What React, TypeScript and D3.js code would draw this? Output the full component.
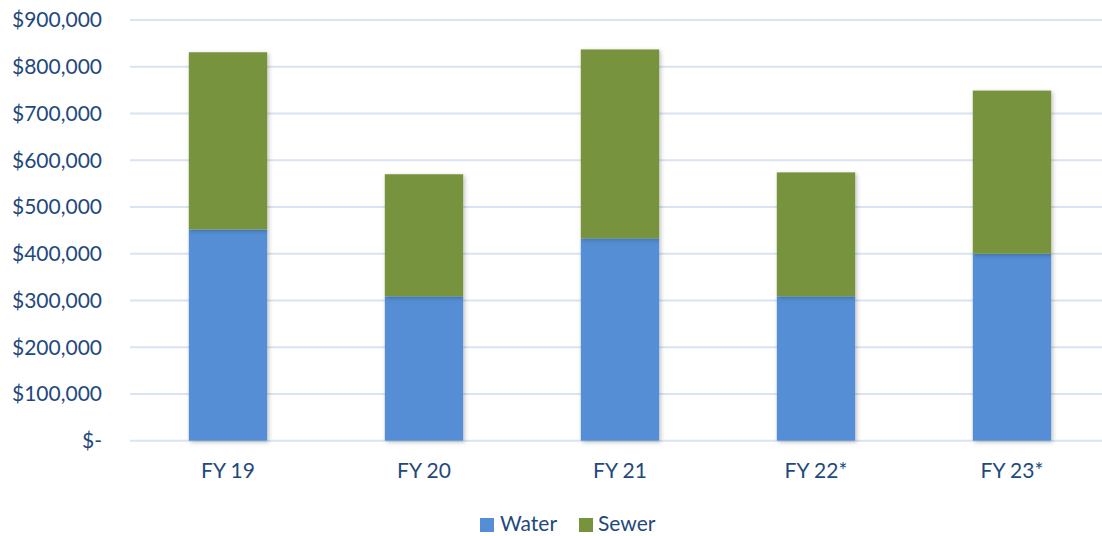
import React from "react";
import * as d3 from "d3";

const categories = ["FY 19", "FY 20", "FY 21", "FY 22*", "FY 23*"];
const water = [452000, 309000, 433000, 309000, 400000];
const sewer = [379000, 261000, 404000, 265000, 349000];
const yTicks = [0, 100000, 200000, 300000, 400000, 500000, 600000, 700000, 800000, 900000];
const seriesNames = ["Water", "Sewer"];
const seriesColors = ["#558ED5", "#77933C"];

const W = 1102;
const H = 536;
const FONT = "Lato, 'Open Sans', sans-serif";
const TEXT = "#1F497D";

export default function App() {
  const x = d3.scaleBand<string>().domain(categories).range([130, 1110]).paddingInner(0.6).paddingOuter(0.3);
  const y = d3.scaleLinear().domain([0, 900000]).range([440.7, 20]);

  const rows = categories.map((c, i) => ({ cat: c, Water: water[i], Sewer: sewer[i] }));
  const stacked = d3.stack<any>().keys(seriesNames)(rows);

  const fmt = (v: number) => (v === 0 ? "$-" : "$" + d3.format(",")(v));

  return (
    <svg width={W} height={H} style={{ position: "absolute", left: 0, top: 0, background: "#fff" }}>
      <defs>
        <filter id="barShadow" x="-20%" y="-5%" width="140%" height="110%">
          <feDropShadow dx="1.5" dy="1.5" stdDeviation="2" floodColor="#000" floodOpacity="0.25" />
        </filter>
      </defs>
      {yTicks.map((t) => (
        <g key={t}>
          <line x1={130} x2={W} y1={y(t)} y2={y(t)} stroke="#D9E3F3" strokeWidth={2} />
          <text x={102} y={y(t)} dy="0.35em" textAnchor="end" fontFamily={FONT} fontSize={21} fill={TEXT}>
            {fmt(t)}
          </text>
        </g>
      ))}
      {stacked.map((s, si) => (
        <g key={s.key} fill={seriesColors[si]}>
          {s.map((d, i) => (
            <rect
              key={i}
              x={x(categories[i])}
              width={x.bandwidth()}
              y={y(d[1])}
              height={y(d[0]) - y(d[1])}
              filter="url(#barShadow)"
            />
          ))}
        </g>
      ))}
      {categories.map((c) => (
        <text key={c} x={(x(c) as number) + x.bandwidth() / 2} y={478} textAnchor="middle" fontFamily={FONT} fontSize={21} fill={TEXT}>
          {c}
        </text>
      ))}
      <g>
        <rect x={480} y={518} width={14} height={14} fill={seriesColors[0]} />
        <text x={500} y={531} fontFamily={FONT} fontSize={21} fill={TEXT}>{seriesNames[0]}</text>
        <rect x={579} y={518} width={14} height={14} fill={seriesColors[1]} />
        <text x={598} y={531} fontFamily={FONT} fontSize={21} fill={TEXT}>{seriesNames[1]}</text>
      </g>
    </svg>
  );
}
